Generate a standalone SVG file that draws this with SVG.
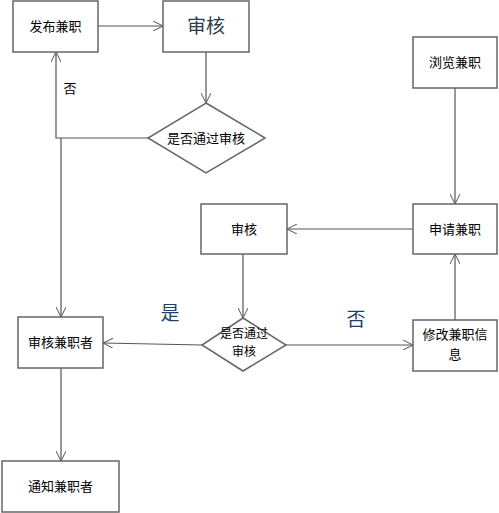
<svg xmlns="http://www.w3.org/2000/svg" width="499" height="513" viewBox="0 0 499 513">
<defs>
<style>
.box{fill:#fff;stroke:#666;stroke-width:1.5}
.t{font-family:"Noto Sans CJK SC","Liberation Sans",sans-serif;font-size:13px;fill:#000;text-anchor:middle}
.s{font-size:12px}
.big{font-family:"Noto Sans CJK SC",serif;font-size:19px;fill:#1f3f6f;text-anchor:middle}
.ln{fill:none;stroke:#555;stroke-width:1.2}
</style>
<marker id="a" viewBox="0 0 10 10" refX="10" refY="5" markerWidth="10" markerHeight="10" markerUnits="userSpaceOnUse" orient="auto">
<path d="M0,0 L10,5 L0,10" fill="none" stroke="#555" stroke-width="1"/>
</marker>
</defs>
<rect width="499" height="513" fill="#fff"/>
<g id="connectors">
<line class="ln" x1="98" y1="26" x2="163" y2="26" marker-end="url(#a)"/>
<line class="ln" x1="206" y1="52" x2="206" y2="103" marker-end="url(#a)"/>
<polyline class="ln" points="148,138 56,138 56,52" marker-end="url(#a)"/>
<line class="ln" x1="61" y1="138" x2="61" y2="317" stroke="#000" marker-end="url(#a)"/>
<line class="ln" x1="61" y1="368" x2="61" y2="461" stroke="#000" marker-end="url(#a)"/>
<line class="ln" x1="455" y1="88" x2="455" y2="204" marker-end="url(#a)"/>
<line class="ln" x1="413" y1="229" x2="287" y2="229" stroke="#000" marker-end="url(#a)"/>
<line class="ln" x1="243" y1="254" x2="243" y2="318" marker-end="url(#a)"/>
<line class="ln" x1="286" y1="345" x2="413" y2="345" marker-end="url(#a)"/>
<line class="ln" x1="202" y1="345" x2="103" y2="343" stroke="#000" marker-end="url(#a)"/>
<line class="ln" x1="455" y1="320" x2="455" y2="254" marker-end="url(#a)"/>
</g>
<g id="n1"><rect class="box" x="13" y="1" width="85" height="51"/><text class="t" x="55.5" y="31">发布兼职</text></g>
<g id="n2"><rect class="box" x="163" y="1" width="86" height="51"/><text class="t" x="206" y="33" style="font-size:19px;fill:#2a3a50">审核</text></g>
<g id="n3"><polygon class="box" points="206,103 265,138 206,173 148,138"/><text class="t" x="206" y="143">是否通过审核</text></g>
<g id="n4"><rect class="box" x="413" y="37" width="84" height="51"/><text class="t" x="455" y="67">浏览兼职</text></g>
<g id="n5"><rect class="box" x="413" y="204" width="84" height="50"/><text class="t" x="455" y="234">申请兼职</text></g>
<g id="n6"><rect class="box" x="201" y="204" width="86" height="50"/><text class="t" x="244" y="234">审核</text></g>
<g id="n7"><polygon class="box" points="243,318 286,345 243,371 202,345"/><text class="t s" x="244" y="338">是否通过</text><text class="t s" x="244" y="356">审核</text></g>
<g id="n8"><rect class="box" x="413" y="320" width="84" height="51"/><text class="t" x="455" y="339">修改兼职信</text><text class="t" x="455" y="359">息</text></g>
<g id="n9"><rect class="box" x="18" y="317" width="85" height="51"/><text class="t" x="60.5" y="347">审核兼职者</text></g>
<g id="n10"><rect class="box" x="2" y="461" width="117" height="51"/><text class="t" x="60.5" y="491">通知兼职者</text></g>
<text class="t" x="70" y="93">否</text>
<text class="big" x="170" y="320">是</text>
<text class="big" x="356" y="326">否</text>
</svg>
